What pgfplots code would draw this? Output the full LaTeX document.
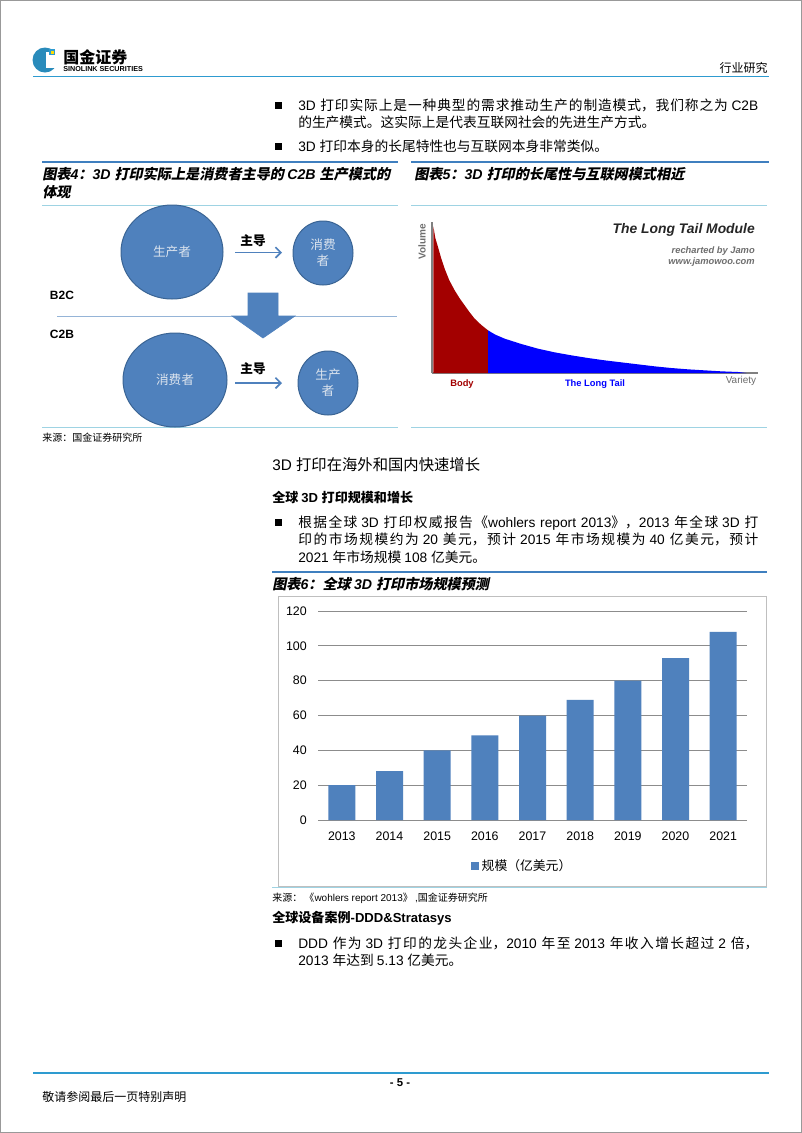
\documentclass[border=0pt]{standalone}
\usepackage{fontspec}
\usepackage{pgfplots}
\pgfplotsset{compat=1.18}
\usetikzlibrary{arrows.meta}
\setmainfont{Liberation Sans}
\newfontfamily\latfam{Liberation Sans}
\newfontfamily\cjkfam{Noto Sans CJK SC}
\newfontfamily\capcjk{Noto Sans CJK SC}[FakeSlant=0.2]
% automatic font switching between CJK and Latin
\XeTeXinterchartokenstate=1
\newXeTeXintercharclass\CJKcls
\newcount\cjkc
\cjkc="3000 \loop\XeTeXcharclass\cjkc=\CJKcls\advance\cjkc by 1\relax\ifnum\cjkc<"3040 \repeat
\cjkc="4E00 \loop\XeTeXcharclass\cjkc=\CJKcls\advance\cjkc by 1\relax\ifnum\cjkc<"A000 \repeat
\cjkc="FF00 \loop\XeTeXcharclass\cjkc=\CJKcls\advance\cjkc by 1\relax\ifnum\cjkc<"FFF0 \repeat
\XeTeXinterchartoks 0 \CJKcls={\cjkfam}
\XeTeXinterchartoks 4095 \CJKcls={\cjkfam}
\XeTeXinterchartoks \CJKcls 0={\latfam}
\XeTeXinterchartoks 4095 0={\latfam}

\definecolor{hdrblue}{HTML}{2E9BD0}
\definecolor{capblue}{HTML}{3F7FBF}
\definecolor{thincyan}{HTML}{9ED3E3}
\definecolor{barblue}{HTML}{4F81BD}
\definecolor{circedge}{HTML}{3A6494}
\definecolor{gridgray}{HTML}{8C8C8C}
\definecolor{ltred}{HTML}{A30000}
\definecolor{ltblue}{HTML}{0000FF}
\definecolor{ltgray}{HTML}{6E6E6E}
\definecolor{circtext}{HTML}{DCE4EE}
\definecolor{framegray}{HTML}{BFBFBF}

\newcommand\fs[2]{\fontsize{#1}{#2}\selectfont}
\newcommand\bodyfont{\fs{10.3pt}{13.125pt}}
\newcommand\capfont{\fs{10.6pt}{13pt}\bfseries\itshape\let\cjkfam\capcjk}
\tikzset{para/.style={anchor=base west, inner sep=0pt, text width=345pt, align=justify, font=\bodyfont},
  line/.style={anchor=base west, inner sep=0pt}}

\begin{document}
\XeTeXlinebreaklocale "zh"
\XeTeXlinebreakskip=0pt plus 2pt
\begin{tikzpicture}[x=0.75pt, y=-0.75pt]
\path[use as bounding box] (0,0) rectangle (802,1133);
\fill[white] (0,0) rectangle (802,1133);
\draw[gray!80, line width=0.75pt] (0.5,0.5) rectangle (801.5,1132.5);

% ---------- header ----------
\fill[hdrblue!90!black] (45,60) circle [radius=12.5];
\fill[white] (46,52) rectangle (58,68);
\fill[hdrblue] (49,49) rectangle (55,55);
\fill[yellow!80!orange] (50.5,50.5) rectangle (53.5,53.5);
\node[anchor=west, inner sep=0pt, font=\fs{12pt}{14pt}\bfseries] at (63,57) {国金证券};
\node[anchor=west, inner sep=0pt, font=\fs{5.4pt}{6pt}\bfseries] at (63,69.5) {SINOLINK SECURITIES};
\node[anchor=east, inner sep=0pt, font=\fs{9pt}{10pt}] at (768,68) {行业研究};
\draw[hdrblue, line width=1.2pt] (33,76.5) -- (769,76.5);

% ---------- top bullets ----------
\fill (275,102) rectangle (281.5,108.5);
\node[para] at (298,110) {3D 打印实际上是一种典型的需求推动生产的制造模式，我们称之为 C2B\linebreak 的生产模式。这实际上是代表互联网社会的先进生产方式。};
\fill (275,143) rectangle (281.5,149.5);
\node[line, font=\bodyfont] at (298,151) {3D 打印本身的长尾特性也与互联网本身非常类似。};

% ---------- figure 4/5 frames ----------
\draw[capblue, line width=1.6pt] (42,162) -- (398,162);
\draw[capblue, line width=1.6pt] (411,162) -- (769,162);
\node[line, font=\capfont] at (42,179) {图表4：3D 打印实际上是消费者主导的 C2B 生产模式的};
\node[line, font=\capfont] at (42,197) {体现};
\node[line, font=\capfont] at (414,179) {图表5：3D 打印的长尾性与互联网模式相近};
\draw[thincyan, line width=0.75pt] (42,205) -- (398,205);
\draw[thincyan, line width=0.75pt] (411,205) -- (767,205);
\draw[thincyan, line width=0.75pt] (42,427) -- (398,427);
\draw[thincyan, line width=0.75pt] (411,427) -- (767,427);

% ---------- figure 4 diagram ----------
\filldraw[fill=barblue, draw=circedge, line width=0.75pt] (172,252) ellipse [x radius=51, y radius=47];
\node[text=circtext, font=\fs{9.5pt}{11pt}] at (172,252) {生产者};
\node[font=\fs{9.5pt}{11pt}\bfseries] at (253,241) {主导};
\draw[barblue, line width=1.2pt, -{Straight Barb[length=4pt,width=8pt]}] (235,252.5) -- (282,252.5);
\filldraw[fill=barblue, draw=circedge, line width=0.75pt] (323,253) ellipse [x radius=30, y radius=32];
\node[text=circtext, align=center, font=\fs{9.5pt}{12pt}] at (323,253) {消费\\者};
\node[font=\fs{9pt}{10pt}\bfseries] at (62,295) {B2C};
\draw[barblue!60, line width=0.75pt] (57,316) -- (397,316);
\filldraw[fill=barblue, draw=barblue, line width=0.5pt] (248,293) -- (278,293) -- (278,316) -- (295,316) -- (263,338) -- (232,316) -- (248,316) -- cycle;
\node[font=\fs{9pt}{10pt}\bfseries] at (62,334) {C2B};
\filldraw[fill=barblue, draw=circedge, line width=0.75pt] (175,380) ellipse [x radius=52, y radius=47];
\node[text=circtext, font=\fs{9.5pt}{11pt}] at (175,380) {消费者};
\node[font=\fs{9.5pt}{11pt}\bfseries] at (253,369) {主导};
\draw[barblue, line width=1.2pt, -{Straight Barb[length=4pt,width=8pt]}] (235,383) -- (282,383);
\filldraw[fill=barblue, draw=circedge, line width=0.75pt] (328,383) ellipse [x radius=30, y radius=32];
\node[text=circtext, align=center, font=\fs{9.5pt}{12pt}] at (328,383) {生产\\者};
\node[line, font=\fs{7.5pt}{9pt}] at (42,441) {来源：国金证券研究所};

% ---------- figure 5 long tail ----------
\coordinate (ltSW) at (432,373);
\begin{axis}[at={(ltSW)}, anchor=south west, scale only axis,
  width=244.5pt, height=113.25pt, xmin=0, xmax=978, ymin=0, ymax=453,
  axis lines=left, axis line style={-, draw=gray, line width=1.5pt}, ticks=none, clip=false]
\addplot[fill=ltred, draw=none] coordinates {(4,440) (10,405) (18,378) (28,343) (38,313) (52,278) (68,248) (83,224) (98,203) (113,182) (128,163) (148,144) (168,128)} \closedcycle;
\addplot[fill=ltblue, draw=none] coordinates {(168,128) (190,115) (218,103) (268,87) (318,73) (368,62) (418,53) (468,45) (518,38) (568,32) (618,26) (668,20) (718,15) (768,11) (818,8) (868,5) (918,3) (943,0)} \closedcycle;
\end{axis}
\node[rotate=90, text=ltgray, font=\fs{7.5pt}{9pt}\bfseries] at (422,242) {Volume};
\node[anchor=east, inner sep=0pt, text=black!85, font=\fs{10.4pt}{12pt}\bfseries\itshape] at (755,230) {The Long Tail Module};
\node[anchor=east, inner sep=0pt, text=ltgray, font=\fs{7pt}{8pt}\bfseries\itshape] at (755,251) {recharted by Jamo};
\node[anchor=east, inner sep=0pt, text=ltgray, font=\fs{7pt}{8pt}\bfseries\itshape] at (755,262.5) {www.jamowoo.com};
\node[text=ltred, font=\fs{7pt}{8pt}\bfseries] at (462,384) {Body};
\node[text=ltblue, font=\fs{7pt}{8pt}\bfseries] at (595,384) {The Long Tail};
\node[text=ltgray, font=\fs{7.5pt}{8pt}] at (741,381) {Variety};

% ---------- section ----------
\node[line, font=\fs{11.5pt}{13pt}] at (272,470.5) {3D 打印在海外和国内快速增长};
\node[line, font=\fs{9.8pt}{12pt}\bfseries] at (272,502) {全球 3D 打印规模和增长};
\fill (275,519) rectangle (281.5,525.5);
\node[para] at (298,527) {根据全球 3D 打印权威报告《wohlers report 2013》，2013 年全球 3D 打\linebreak 印的市场规模约为 20 美元，预计 2015 年市场规模为 40 亿美元，预计\linebreak 2021 年市场规模 108 亿美元。};

% ---------- figure 6 ----------
\draw[capblue, line width=1.6pt] (272,572) -- (767,572);
\node[line, font=\capfont] at (272,589) {图表6：全球 3D 打印市场规模预测};
\draw[framegray, line width=0.75pt] (278,596) rectangle (766,886);
\draw[thincyan, line width=0.75pt] (272,887.5) -- (767,887.5);

\coordinate (bcSW) at (318,820);
\begin{axis}[at={(bcSW)}, anchor=south west, scale only axis,
  width=321.75pt, height=156.75pt,
  xmin=-0.5, xmax=8.5, ymin=0, ymax=120,
  ytick={0,20,40,60,80,100,120},
  xtick={0,1,2,3,4,5,6,7,8},
  xticklabels={2013,2014,2015,2016,2017,2018,2019,2020,2021},
  ymajorgrids, grid style={draw=gridgray, line width=0.75pt},
  axis line style={draw=none}, major tick length=0pt,
  /pgf/number format/assume math mode=true,
  tick label style={font=\fs{9.3pt}{11pt}},
  yticklabel style={anchor=east, inner sep=0pt, xshift=-8.25pt},
  xticklabel style={anchor=base, inner sep=0pt, yshift=-15.2pt},
  ybar, bar width=20.25pt,
  legend style={at={(0.4767,-0.22)}, anchor=center, draw=none, fill=none,
    font=\fs{9.6pt}{11pt}, inner sep=0pt,
    /tikz/every even column/.append style={column sep=1pt}},
  clip=false]
\addplot[fill=barblue, draw=none,
  legend image code/.code={\fill[barblue] (0pt,-3pt) rectangle (6pt,3pt);}]
  coordinates {(0,20) (1,28) (2,40) (3,48.6) (4,60) (5,69) (6,80) (7,93) (8,108)};
\addlegendentry{规模（亿美元）}
\end{axis}

\node[line, font=\fs{7.5pt}{9pt}] at (272,901) {来源： 《wohlers report 2013》 ,国金证券研究所};
\node[line, font=\fs{9.8pt}{12pt}\bfseries] at (272,922) {全球设备案例-DDD\&Stratasys};
\fill (275,940) rectangle (281.5,946.5);
\node[para] at (298,948) {DDD 作为 3D 打印的龙头企业，2010 年至 2013 年收入增长超过 2 倍，\linebreak 2013 年达到 5.13 亿美元。};

% ---------- footer ----------
\draw[hdrblue, line width=1.2pt] (33,1073) -- (769,1073);
\node[font=\fs{8.5pt}{10pt}\bfseries] at (400,1083) {- 5 -};
\node[line, font=\fs{9pt}{10pt}] at (42,1101) {敬请参阅最后一页特别声明};
\end{tikzpicture}
\end{document}
